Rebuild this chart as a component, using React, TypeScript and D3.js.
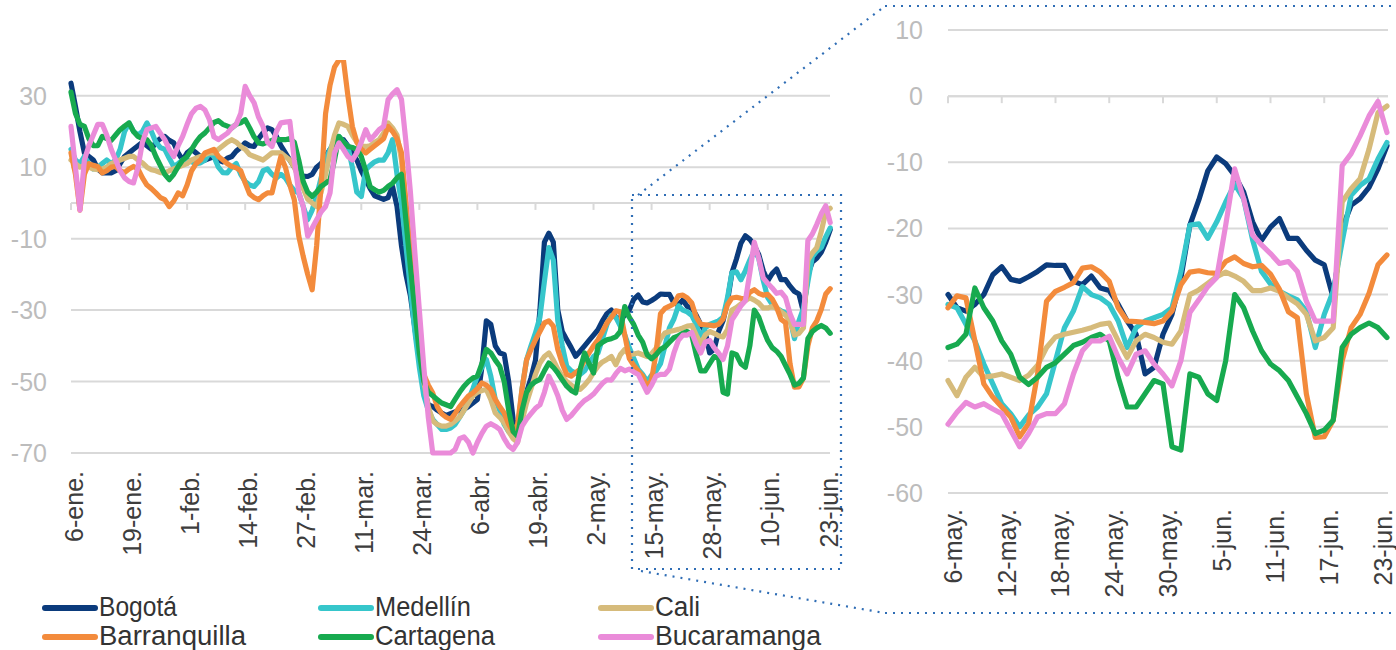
import React from 'react';
import * as d3 from 'd3';

const START_DATE = '2020-01-06';
const N_DAYS = 171;

const SERIES_NAMES = ['Bogotá', 'Medellín', 'Cali', 'Barranquilla', 'Cartagena', 'Bucaramanga'];
const SERIES_COLORS = ['#0b3b7c', '#36c6cb', '#d6bb7b', '#f38b3c', '#17aa4f', '#ea8bd9'];

const LEFT_TICK_DATES = ['2020-01-06', '2020-01-19', '2020-02-01', '2020-02-14', '2020-02-27', '2020-03-11', '2020-03-24', '2020-04-06', '2020-04-19', '2020-05-02', '2020-05-15', '2020-05-28', '2020-06-10', '2020-06-23'];
const LEFT_TICK_LABELS = ['6-ene.', '19-ene.', '1-feb.', '14-feb.', '27-feb.', '11-mar.', '24-mar.', '6-abr.', '19-abr.', '2-may.', '15-may.', '28-may.', '10-jun.', '23-jun.'];
const RIGHT_TICK_DATES = ['2020-05-06', '2020-05-12', '2020-05-18', '2020-05-24', '2020-05-30', '2020-06-05', '2020-06-11', '2020-06-17', '2020-06-23'];
const RIGHT_TICK_LABELS = ['6-may.', '12-may.', '18-may.', '24-may.', '30-may.', '5-jun.', '11-jun.', '17-jun.', '23-jun.'];
const LEFT_Y_TICKS = [30, 10, -10, -30, -50, -70];
const RIGHT_Y_TICKS = [10, 0, -10, -20, -30, -40, -50, -60];
const ZOOM_START = '2020-05-06';

const BOGOTA = [
  33.5, 27, 20, 14, 13, 12, 9.5, 8.4, 8.4, 8.4,
  9, 11, 13, 14, 15, 16, 17, 16, 15, 17,
  18, 18.6, 17.5, 16.8, 14, 12, 14, 15, 14, 13,
  12, 12.5, 13, 12, 11.5, 12.5, 13, 14.5, 15.5, 16.8,
  16, 15.8, 18, 19.6, 21, 20.5, 18.6, 16, 14, 12,
  10, 8.5, 7.5, 7.4, 8, 10, 11, 13, 15, 15.8,
  16.5, 17.7, 16, 14, 12, 9, 6.5, 4, 2, 1.5,
  1, 1.5, 4.6, -1, -12, -20, -26, -35, -44, -52,
  -56.5, -57, -58, -58.8, -59.5, -59, -58.5, -58, -57.8, -57,
  -56, -55, -46, -33, -34, -40, -42, -42.4, -50, -60.6,
  -65, -60, -53, -49, -44, -30, -11, -8.5, -11, -30,
  -36, -38.3, -40.5, -42.9, -41.5, -40, -38.5, -37, -35.5, -33,
  -31,
  -30, -32, -32.5, -31.5, -30, -27, -25.8, -27.7, -28, -27.3,
  -26.5, -25.5, -25.6, -25.6, -28, -28.5, -27.2, -29, -29.4, -31.5,
  -34, -36, -42, -41, -36, -33, -27.5, -19.5, -15.7, -11.3,
  -9.2, -10.2, -12, -14.5, -19, -21.8, -19.8, -18.5, -21.5, -21.5,
  -23.3, -24.8, -25.5, -30.5, -20, -16.5, -15.5, -13.8, -11, -7.5,
];

const MEDELLIN = [
  15, 12, 11, 13, 11, 9.5, 10, 11, 12, 11,
  12, 15, 20, 22.4, 20, 19, 20, 22.4, 20, 17,
  15.5, 15, 12.5, 10.2, 11, 12, 12, 11.5, 11, 11.2,
  12, 14, 13, 10, 8.5, 8.4, 10, 11, 8, 6,
  5, 4.6, 6, 9, 9.5, 8, 7, 8, 7, 5,
  3.5, 2.8, -1, -4.7, -2, 2, 7, 12, 15, 17.5,
  18.6, 17, 15.8, 10, 3, 1.8, 9.3, 10.5, 11.5, 12,
  12, 14, 17.7, 8, 0, -12, -24, -36, -46, -54,
  -58, -60.6, -62, -63.4, -63.4, -63, -62, -60, -58, -55,
  -52, -48.5, -46, -43.8, -48.5, -55, -58, -62, -64, -65.3,
  -64, -52, -44, -40, -36.4, -32, -22, -12.5, -16, -33,
  -40, -45.7, -47, -47.6, -48, -47, -45, -43, -42, -38,
  -34,
  -31.5, -32, -34.5, -37, -40.5, -43.5, -46.5, -48, -50, -48.2,
  -47, -45, -40, -35, -32.5, -28.8, -30, -30.5, -31.5, -34,
  -38, -35, -34, -33.5, -33, -32, -26.5, -19.5, -19.3, -21.5,
  -19, -16, -13.3, -15.5, -21.7, -26.5, -28.4, -29.5, -30.2, -30.8,
  -32.5, -38, -33, -29.5, -22, -15, -13.5, -12.5, -9.5, -7,
];

const CALI = [
  12, 11, 10, 10.5, 10, 9.5, 9.3, 9.5, 10, 11,
  11.5, 12, 12.5, 13, 13, 12, 11.2, 10, 9.3, 9,
  8.5, 8.4, 9, 9.5, 10, 10.5, 11, 12, 12.5, 13,
  13.5, 14, 14, 15, 16, 17, 17.7, 17, 15.8, 15,
  13.5, 13, 12.5, 12, 13, 14, 14, 14, 13, 12,
  10, 7, 4, 1, 0, -1, 3, 8, 14, 19,
  22.4, 22, 21.4, 19, 17, 15.8, 15.8, 16, 17, 17.7,
  19.5, 22.4, 21, 19, 12, 0, -14, -28, -40, -50,
  -57, -61, -62, -62.5, -62.5, -62, -61, -60, -58, -56,
  -54, -53, -52.5, -52.2, -55, -58.8, -60, -61.6, -64, -66,
  -67, -61, -56, -52, -48, -44.8, -43, -42, -44, -46.5,
  -48.5, -50, -51, -52, -52.2, -51, -49.5, -47.5, -45.7, -44.5,
  -43.8,
  -43, -45.3, -42.5, -41, -42.5, -42.3, -42, -42.5, -43, -42.2,
  -40.7, -38, -36.4, -36, -35.7, -35.4, -35, -34.5, -34.3, -37,
  -39.5, -37, -36, -36.5, -37.2, -37.5, -35.5, -30, -29.3, -28.3,
  -27.3, -26.6, -27.2, -28, -29.4, -29.4, -29, -29.5, -30.5, -31.4,
  -33, -37, -36.5, -35, -16, -14, -12.5, -8, -2.5, -1.5,
];

const BARRANQUILLA = [
  14, 8, -2, 8, 11, 10.5, 10.2, 8.4, 9, 10,
  10.2, 9, 8.5, 9.5, 10.2, 9.5, 7, 5, 4, 2.8,
  1.5, 0.9, -1, 0.5, 2.8, 2, 5, 9, 11, 12,
  14, 14.5, 15, 13, 12, 11, 10.2, 9.8, 9, 5.6,
  2.5, 1.5, 0.9, 2, 2.8, 2.8, 8, 13, 10, 5,
  0.9, -9.3, -15, -20, -24.3, -12, 5, 25, 33, 38,
  40, 40, 30, 21.4, 17, 15, 14, 15, 16, 17,
  18, 21.4, 20, 18, 14, 0, -15, -28, -40, -48,
  -51, -53.2, -57, -59, -60, -60.6, -59, -57, -55.5, -54,
  -53.2, -52, -50.4, -51, -52.2, -55, -57, -58.8, -62, -64,
  -62, -52, -44, -41, -38.3, -36, -33.6, -33, -34.5, -41,
  -45, -48, -48.5, -47.5, -46.6, -44, -42, -40, -38.3, -36,
  -33.6,
  -32, -30.2, -30.5, -37, -43.5, -45.5, -47, -48.5, -51.5, -49.5,
  -42, -31, -29.5, -28.9, -28.2, -26, -25.8, -26.6, -28, -32,
  -34, -34.1, -34.2, -34.4, -34, -32.5, -28.5, -26.6, -26.4, -26.7,
  -26.8, -25, -24.3, -25.3, -25.8, -25.6, -26.9, -29.2, -32.6, -33.5,
  -45, -51.6, -51.5, -49, -40, -35, -33, -29.8, -25.5, -24,
];

const CARTAGENA = [
  31, 25, 22, 21.4, 18, 16, 16, 18.6, 18, 17.5,
  19, 20.5, 21.5, 22.4, 20, 18.6, 18, 17.7, 16, 13,
  10.5, 8, 6.5, 8, 10.2, 12, 13, 15, 17, 18.6,
  19.6, 21, 22.5, 23, 22, 21.5, 21, 22, 22.4, 23.3,
  21, 18.5, 16.8, 16.5, 17, 17.5, 17.7, 17.7, 17.7, 18,
  17, 12, 6, 3, 1.8, 3, 4.6, 5.5, 6.5, 12,
  18.6, 17, 15.8, 15.5, 15, 13, 9, 4.5, 3.7, 3,
  3.5, 4.6, 5.5, 7, 8, -5, -18, -30, -42, -50,
  -53, -54, -55, -56, -56.5, -57, -55, -53, -51.3, -50,
  -49, -48.5, -45, -41, -42, -44, -45.7, -50, -58, -64,
  -65.3, -58, -53, -51, -50, -49.4, -47, -44.8, -46, -47.6,
  -49.5, -51.3, -52.5, -53.2, -46.6, -42, -45, -47.6, -40, -39,
  -38.3,
  -38, -37.5, -36, -29, -32, -34, -37, -39, -42.5, -43.6,
  -42.5, -41, -40.3, -39, -37.7, -37.2, -36.5, -36, -37, -42.5,
  -47, -47, -45, -43, -43.5, -53, -53.5, -42, -42.5, -45,
  -46, -40, -30, -32, -35.5, -38.5, -40.5, -41.5, -43, -45.5,
  -48, -51, -50.5, -49, -38, -36, -35, -34.3, -35, -36.5,
];

const BUCARAMANGA = [
  21.4, 10, -2, 12, 16, 19, 22, 22, 19, 15,
  12, 9, 7, 6, 5.6, 10, 17, 20.5, 21, 21.4,
  19.5, 17.7, 15, 13, 16, 18.6, 22, 25, 26.5, 27,
  26, 23.3, 18.5, 17.7, 18.6, 19.5, 21, 22, 25, 32.6,
  30, 28, 24, 21.4, 17, 15.8, 20, 22.4, 22.6, 22.8,
  12, 3, -1, -9.3, -7, -4.7, -2.5, -1, 2.8, 14,
  16.8, 15, 13, 12, 14, 17, 20.5, 17.7, 19, 20.5,
  21.4, 28.9, 30.5, 31.7, 29, 17, 3, -14, -30, -46,
  -60, -70, -70, -70, -70, -70, -69, -66, -65.5, -67,
  -70, -67, -64.5, -62.5, -61.8, -62.5, -63.4, -66, -68, -69,
  -67, -62.5, -60.5, -59, -57.5, -56.5, -53, -48.5, -51, -54,
  -58, -60.6, -59.5, -58, -56.5, -55.3, -54.5, -53.5, -52, -50.5,
  -49.5,
  -49.6, -47.8, -46.3, -47, -46.5, -47.3, -48, -50.5, -53, -51,
  -48.5, -48, -48, -46.5, -42, -38.5, -37, -37, -36.3, -39.5,
  -42, -39, -38.5, -40.5, -42, -43.8, -40, -32.7, -30.8, -28.8,
  -27.4, -19.5, -11, -15.5, -21, -22.5, -23.8, -25.3, -25, -26.5,
  -31, -34, -34, -34, -10.5, -8.7, -6, -3, -0.8, -5.5,
];

const SERIES_VALUES = [BOGOTA, MEDELLIN, CALI, BARRANQUILLA, CARTAGENA, BUCARAMANGA];

const parse = d3.utcParse('%Y-%m-%d');
const START = parse(START_DATE) as Date;
const DATES = d3.range(N_DAYS).map((i) => d3.utcDay.offset(START, i));

const FONT = "'Liberation Sans', Arial, Helvetica, sans-serif";
const GRID = '#d9d9d9';
const YLAB = '#bcbcbc';
const XLAB = '#3d3d3d';
const DOT = '#2f6db5';

type Pt = { date: Date; v: number };

function Panel(props: {
  id: string;
  x: d3.ScaleTime<number, number>;
  y: d3.ScaleLinear<number, number>;
  gridX0: number;
  gridX1: number;
  yTicks: number[];
  yLabelX: number;
  tickDates: string[];
  tickLabels: string[];
  labelTop: number;
  labelOffset: number;
  from: Date;
  clip: [number, number, number, number];
}) {
  const { id, x, y, gridX0, gridX1, yTicks, yLabelX, tickDates, tickLabels, labelTop, labelOffset, from, clip } = props;
  const line = d3
    .line<Pt>()
    .x((d) => x(d.date))
    .y((d) => y(d.v));
  const zeroY = y(0);
  return (
    <g>
      <defs>
        <clipPath id={id}>
          <rect x={clip[0]} y={clip[1]} width={clip[2] - clip[0]} height={clip[3] - clip[1]} />
        </clipPath>
      </defs>
      {yTicks.map((t) => (
        <g key={t}>
          <line x1={gridX0} x2={gridX1} y1={y(t)} y2={y(t)} stroke={GRID} strokeWidth={2} />
          <text x={yLabelX} y={y(t)} dy="0.36em" textAnchor="end" fontFamily={FONT} fontSize={25} fill={YLAB}>
            {t}
          </text>
        </g>
      ))}
      <line x1={gridX0} x2={gridX1} y1={zeroY} y2={zeroY} stroke={GRID} strokeWidth={2} />
      {tickDates.map((td, i) => {
        const tx = x(parse(td) as Date);
        return (
          <g key={td}>
            <line x1={tx} x2={tx} y1={zeroY} y2={zeroY + 7} stroke={GRID} strokeWidth={2} />
            <text
              transform={`translate(${tx + labelOffset},${labelTop}) rotate(-90)`}
              dy="0.35em"
              textAnchor="end"
              fontFamily={FONT}
              fontSize={25}
              fill={XLAB}
            >
              {tickLabels[i]}
            </text>
          </g>
        );
      })}
      <g clipPath={`url(#${id})`}>
        {SERIES_VALUES.map((vals, si) => {
          const pts: Pt[] = DATES.map((d, i) => ({ date: d, v: vals[i] })).filter((p) => p.date >= from);
          return (
            <path
              key={si}
              d={line(pts) || ''}
              fill="none"
              stroke={SERIES_COLORS[si]}
              strokeWidth={5.2}
              strokeLinejoin="round"
              strokeLinecap="round"
            />
          );
        })}
      </g>
    </g>
  );
}

export default function App() {
  const xL = d3
    .scaleUtc()
    .domain([parse('2020-01-06') as Date, parse('2020-06-23') as Date])
    .range([71, 71 + 169 * 4.466]);
  const yL = d3.scaleLinear().domain([-70, 40]).range([453, 60]);

  const xR = d3
    .scaleUtc()
    .domain([parse('2020-05-06') as Date, parse('2020-06-23') as Date])
    .range([948, 1378]);
  const yR = d3.scaleLinear().domain([-60, 10]).range([493, 30]);

  const legendCols = [42, 318, 598];
  const legendRows = [608, 637];
  const legendWidths = [78, 96, 45, 147, 120, 166];

  const dots = { stroke: DOT, strokeWidth: 2.2, strokeDasharray: '2 6', fill: 'none' } as const;

  return (
    <svg
      width={1396}
      height={650}
      viewBox="0 0 1396 650"
      style={{ position: 'absolute', left: 0, top: 0, background: '#fff' }}
    >
      <rect x={0} y={0} width={1396} height={650} fill="#ffffff" />
      <Panel
        id="clipL"
        x={xL}
        y={yL}
        gridX0={71}
        gridX1={830}
        yTicks={LEFT_Y_TICKS}
        yLabelX={47}
        tickDates={LEFT_TICK_DATES}
        tickLabels={LEFT_TICK_LABELS}
        labelTop={471}
        labelOffset={3}
        from={START}
        clip={[60, 60, 840, 456]}
      />
      <Panel
        id="clipR"
        x={xR}
        y={yR}
        gridX0={948}
        gridX1={1388}
        yTicks={RIGHT_Y_TICKS}
        yLabelX={923}
        tickDates={RIGHT_TICK_DATES}
        tickLabels={RIGHT_TICK_LABELS}
        labelTop={509}
        labelOffset={5}
        from={parse(ZOOM_START) as Date}
        clip={[940, 20, 1396, 500]}
      />
      <rect x={632} y={195} width={209} height={374} {...dots} />
      <line x1={638} y1={195} x2={885} y2={6} {...dots} />
      <line x1={885} y1={6} x2={1396} y2={6} {...dots} />
      <line x1={641} y1={571} x2={885} y2={613} {...dots} />
      <line x1={885} y1={613} x2={1396} y2={613} {...dots} />
      {SERIES_NAMES.map((name, i) => {
        const cx = legendCols[i % 3];
        const cy = legendRows[Math.floor(i / 3)];
        return (
          <g key={name}>
            <line x1={cx + 3} x2={cx + 53} y1={cy} y2={cy} stroke={SERIES_COLORS[i]} strokeWidth={6} strokeLinecap="round" />
            <text
              x={cx + 57}
              y={cy + 8}
              fontFamily={FONT}
              fontSize={27}
              fill="#333"
              textLength={legendWidths[i]}
              lengthAdjust="spacingAndGlyphs"
            >
              {name}
            </text>
          </g>
        );
      })}
    </svg>
  );
}
